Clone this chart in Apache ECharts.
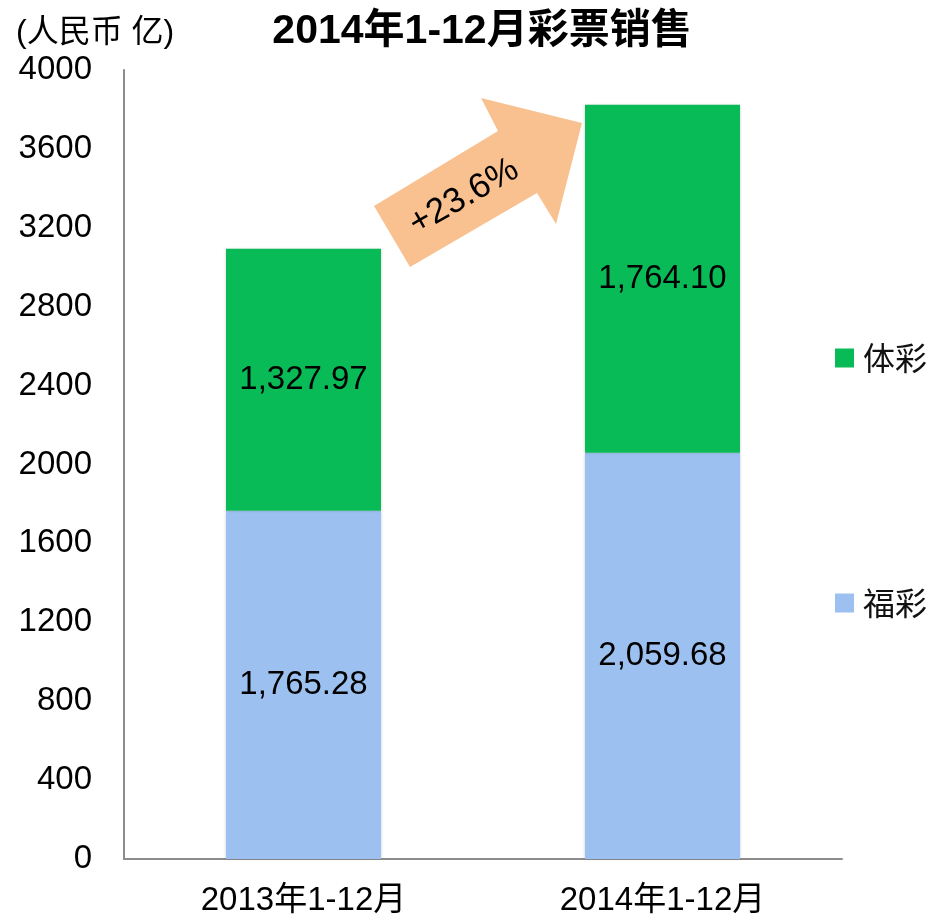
<!DOCTYPE html>
<html>
<head>
<meta charset="utf-8">
<script src="https://cdn.jsdelivr.net/npm/echarts@6/dist/echarts.min.js"></script>
<style>
  html, body { margin: 0; padding: 0; background: #fff; }
  #main { width: 933px; height: 920px; }
</style>
</head>
<body>
<div id="main"></div>
<script>
  // 数据
  var categories = ['2013年1-12月', '2014年1-12月'];
  var fucai = [1765.28, 2059.68];
  var ticai = [1327.97, 1764.10];
  var growthText = '+23.6%';

  var fontLatin = '"Liberation Sans", Arial, "Noto Sans CJK SC", sans-serif';
  var fontCJK = '"Noto Sans CJK SC", sans-serif';

  function fmt(v) {
    return v.toLocaleString('en-US', { minimumFractionDigits: 2, maximumFractionDigits: 2 });
  }

  var myChart = echarts.init(document.getElementById('main'));

  var barLabel = {
    show: true,
    position: 'inside',
    color: '#000',
    fontSize: 33,
    fontFamily: fontLatin,
    formatter: function (p) { return fmt(p.value); }
  };

  var option = {
    backgroundColor: '#fff',
    animation: false,
    title: [
      {
        text: '2014年1-12月彩票销售',
        left: 482,
        top: 11,
        textAlign: 'center',
        padding: 0,
        textStyle: { fontSize: 41, fontWeight: 'bold', color: '#000', fontFamily: fontLatin }
      },
      {
        text: '(人民币 亿)',
        left: 16,
        top: 17,
        padding: 0,
        textStyle: { fontSize: 32, fontWeight: 'normal', color: '#000', fontFamily: fontLatin }
      }
    ],
    legend: [
      {
        data: ['体彩'],
        left: 835,
        top: 342,
        padding: 0,
        orient: 'vertical',
        icon: 'rect',
        itemWidth: 19,
        itemHeight: 19,
        textStyle: { fontSize: 32, color: '#111', fontFamily: fontCJK, padding: [0, 0, 0, 4] }
      },
      {
        data: ['福彩'],
        left: 835,
        top: 587,
        padding: 0,
        orient: 'vertical',
        icon: 'rect',
        itemWidth: 19,
        itemHeight: 19,
        textStyle: { fontSize: 32, color: '#111', fontFamily: fontCJK, padding: [0, 0, 0, 4] }
      }
    ],
    grid: {
      left: 124,
      right: 91,
      top: 70,
      bottom: 61,
      containLabel: false
    },
    xAxis: {
      type: 'category',
      data: categories,
      axisTick: { show: false },
      axisLine: { show: true, lineStyle: { color: '#8c8c8c', width: 2 } },
      axisLabel: { color: '#000', fontSize: 33, fontFamily: fontLatin, margin: 25 }
    },
    yAxis: {
      type: 'value',
      min: 0,
      max: 4000,
      interval: 400,
      splitLine: { show: false },
      axisTick: { show: false },
      axisLine: { show: true, lineStyle: { color: '#8c8c8c', width: 2 } },
      axisLabel: {
        color: '#000', fontSize: 33, fontFamily: fontLatin, margin: 32,
        formatter: function (v) { return String(v); }
      }
    },
    series: [
      {
        name: '福彩',
        type: 'bar',
        stack: 'total',
        barWidth: 155,
        color: '#9cc1f0',
        itemStyle: { shadowBlur: 3, shadowColor: 'rgba(0,0,0,0.2)' },
        label: barLabel,
        data: fucai
      },
      {
        name: '体彩',
        type: 'bar',
        stack: 'total',
        barWidth: 155,
        color: '#08bb57',
        itemStyle: { shadowBlur: 3, shadowColor: 'rgba(0,0,0,0.2)' },
        label: barLabel,
        data: ticai
      }
    ],
    graphic: [
      {
        type: 'polygon',
        z: 100,
        shape: {
          points: [[374, 206], [498, 131], [481, 98], [582, 123], [556, 224], [537, 193], [410, 267]]
        },
        style: { fill: '#f9c190' }
      },
      {
        type: 'text',
        z: 101,
        x: 464,
        y: 197,
        rotation: 0.52,
        style: {
          text: growthText,
          fontSize: 35,
          fontFamily: fontLatin,
          fill: '#000',
          textAlign: 'center',
          textVerticalAlign: 'middle'
        }
      }
    ]
  };

  myChart.setOption(option);
</script>
</body>
</html>
